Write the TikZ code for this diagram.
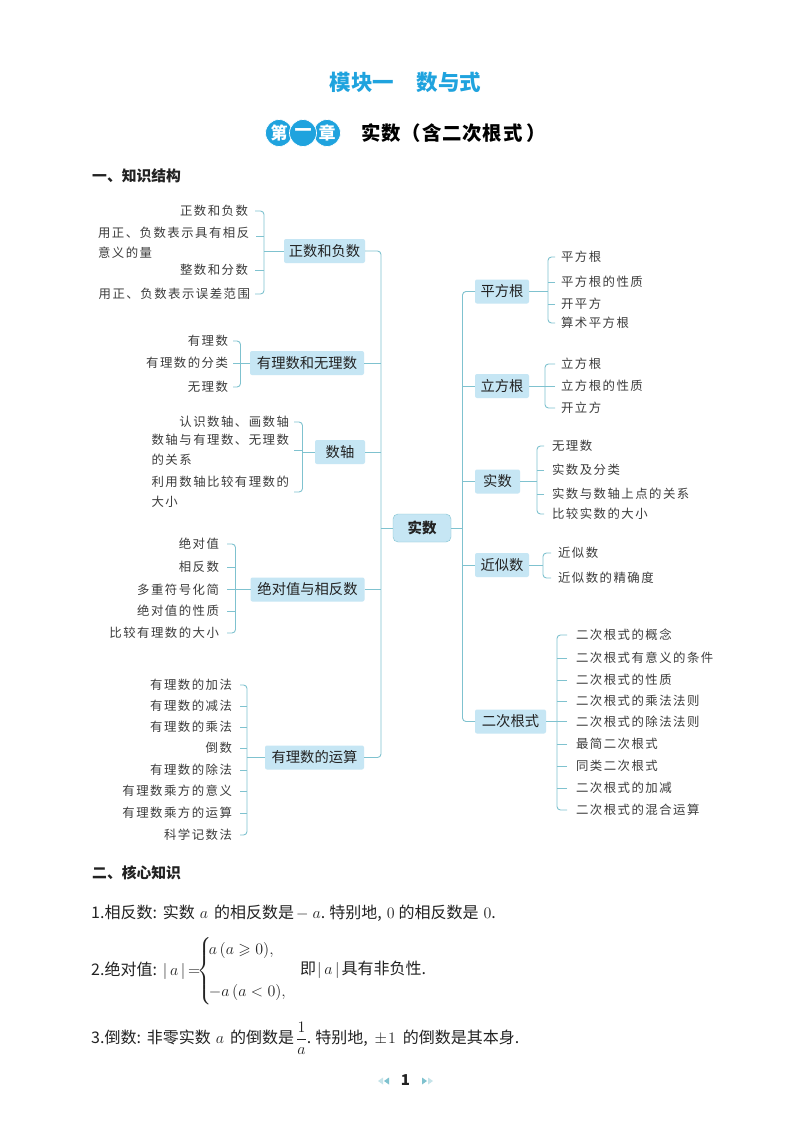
\documentclass[tikz,border=0pt]{standalone}
\usepackage{fix-cm}
\usepackage{amsmath,amssymb}
\usepackage{fontspec}
\setmainfont{Noto Sans CJK SC}
\newfontfamily\leaffont[LetterSpace=12]{Noto Sans CJK SC}
\newfontfamily\chapfont[LetterSpace=4.5]{Noto Sans CJK SC}
\definecolor{linec}{HTML}{7FC2CF}
\definecolor{boxc}{HTML}{C6E6F4}
\definecolor{titlec}{HTML}{1FA3DE}
\definecolor{inkc}{HTML}{222222}
\definecolor{leafc}{HTML}{3C3C3C}
\tikzset{
  conn/.style={draw=linec,line width=0.9pt},
  barconn/.style={conn,rounded corners=3.5pt},
  leaf/.style={font=\leaffont\fontsize{12.4}{20}\selectfont,text=leafc,inner ysep=1pt,outer sep=0pt,align=left},
  hub/.style={fill=boxc,rounded corners=2pt,minimum height=24pt,inner sep=0pt,outer sep=0pt,text=inkc,font=\fontsize{14.3}{17}\selectfont},
  core/.style={hub,draw=linec,rounded corners=5pt,minimum width=58pt,minimum height=28pt,font=\bfseries\fontsize{14.5}{17}\selectfont},
  heading/.style={anchor=west,inner sep=0pt,text=inkc,font=\bfseries\fontsize{14.8}{17}\selectfont},
  body/.style={anchor=west,inner sep=0pt,text=inkc,font=\fontsize{16}{19}\selectfont},
  badge/.style={circle,fill=titlec,draw=white,line width=0.7pt,minimum size=27pt,inner sep=0pt,text=white,font=\bfseries\fontsize{17}{20}\selectfont},
}
% #1 hub name, #2 leaf anchor, #3 bar x, #4 stub end x, #5 gap to text, #6 count, #7 list y/text
\newcommand\leaves[7]{%
  \coordinate (#1b) at (#3,0);
  \foreach \yy/\lbl [count=\ii] in {#7} {
    \node[leaf,anchor=#2,inner xsep=#5] (#1\ii) at (#4,\yy) {\lbl};
    \ifnum\ii>1 \ifnum\ii<#6
      \draw[conn] (#1\ii.#2) -- (#1b|-#1\ii.#2);
    \fi\fi
  }
  \draw[conn] (#1) -- (#1b|-#1);
  \draw[barconn] (#11.#2) -| (#1b|-#1) |- (#1#6.#2);
}
\begin{document}
\begin{tikzpicture}[x=1pt,y=-1pt]
\useasboundingbox (0,0) rectangle (791,1146);
\fill[white] (0,0) rectangle (791,1146);

% titles
\node[inner sep=0pt,text=titlec,font=\bfseries\fontsize{21.5}{24}\selectfont] (modtitle) at (405.5,82) {模块一\hspace{1.05em}数与式};
\node[badge] (bd1) at (279,133) {第};
\node[badge] (bd3) at (327,133) {章};
\node[badge] (bd2) at (303,133) {一};
\node[anchor=west,inner sep=0pt,text=black,font=\chapfont\bfseries\fontsize{19.4}{22}\selectfont] (chtitle) at (361,133) {实数（含二次根式\hspace{4pt}）};
\node[heading] (sec1) at (92,176) {一、知识结构};
\node[heading] (sec2) at (92,873) {二、核心知识};

% centre and hubs
\node[core] (core) at (422,528) {实数};
\coordinate (spL) at (381,528);
\coordinate (spR) at (462.5,528);

\node[hub,minimum width=81pt] (zf) at (324.5,251) {正数和负数};
\node[hub,minimum width=114pt] (yl) at (307,363) {有理数和无理数};
\node[hub,minimum width=50pt] (zz) at (340,452) {数轴};
\node[hub,minimum width=114pt] (jd) at (307.5,589.5) {绝对值与相反数};
\node[hub,minimum width=99pt] (ys) at (314.5,757.5) {有理数的运算};
\node[hub,minimum width=54pt] (pf) at (502,291.5) {平方根};
\node[hub,minimum width=54pt] (lf) at (502,386) {立方根};
\node[hub,minimum width=45pt] (ss) at (497.5,481.5) {实数};
\node[hub,minimum width=54pt] (js) at (502,565) {近似数};
\node[hub,minimum width=71pt] (ec) at (510.5,721.5) {二次根式};

% trunk
\draw[conn] (core) -- (spL);
\draw[conn] (core) -- (spR);
\draw[barconn] (zf) -| (spL) |- (ys);
\draw[conn] (yl) -- (spL|-yl);
\draw[conn] (zz) -- (spL|-zz);
\draw[conn] (jd) -- (spL|-jd);
\draw[barconn] (pf) -| (spR) |- (ec);
\draw[conn] (lf) -- (spR|-lf);
\draw[conn] (ss) -- (spR|-ss);
\draw[conn] (js) -- (spR|-js);

% left group 1 (two-line leaf)
\coordinate (zfb) at (264,0);
\coordinate (zf2c) at (256,236);
\node[leaf,anchor=east,inner xsep=7pt] (zf1) at (255,211) {正数和负数};
\node[leaf,anchor=west,inner xsep=0pt] (zf2) at (98,243) {用正、负数表示具有相反\\意义的量};
\node[leaf,anchor=east,inner xsep=7pt] (zf3) at (255,270) {整数和分数};
\node[leaf,anchor=east,inner xsep=5pt] (zf4) at (255,294) {用正、负数表示误差范围};
\draw[conn] (zf) -- (zfb|-zf);
\draw[conn] (zf2c) -- (zfb|-zf2c);
\draw[conn] (zf3.east) -- (zfb|-zf3.east);
\draw[barconn] (zf1.east) -| (zfb|-zf) |- (zf4.east);

% left group 2
\leaves{yl}{east}{240.5}{233}{5pt}{3}{341/有理数,363/有理数的分类,387/无理数}

% left group 3 (two-line leaves)
\coordinate (zzb) at (302.5,0);
\node[leaf,anchor=east,inner xsep=5pt] (zz1) at (294,422) {认识数轴、画数轴};
\node[leaf,anchor=east,inner xsep=5pt] (zz2) at (294,450) {数轴与有理数、无理数\\的关系};
\node[leaf,anchor=east,inner xsep=5pt] (zz3) at (294,492) {利用数轴比较有理数的\\大小};
\draw[conn] (zz) -- (zzb|-zz);
\draw[conn] (zz2.east) -- (zzb|-zz2.east);
\draw[barconn] (zz1.east) -| (zzb|-zz) |- (zz3.east);

% left groups 4, 5
\leaves{jd}{east}{235.5}{227}{8pt}{5}{544/绝对值,567/相反数,589.5/多重符号化简,611/绝对值的性质,633/比较有理数的大小}
\leaves{ys}{east}{247}{240}{8pt}{8}{685/有理数的加法,706/有理数的减法,727/有理数的乘法,748/倒数,770/有理数的除法,791/有理数乘方的意义,813/有理数乘方的运算,835/科学记数法}

% right groups
\leaves{pf}{west}{548}{555}{6pt}{4}{257/平方根,282/平方根的性质,304/开平方,323/算术平方根}
\leaves{lf}{west}{545}{555}{6pt}{3}{364/立方根,386/立方根的性质,408/开立方}
\leaves{ss}{west}{537}{544}{8pt}{4}{446/无理数,470/实数及分类,494/实数与数轴上点的关系,514/比较实数的大小}
\leaves{js}{west}{543}{551}{7pt}{2}{553/近似数,578/近似数的精确度}
\leaves{ec}{west}{557}{567}{9pt}{9}{635/二次根式的概念,658/二次根式有意义的条件,680/二次根式的性质,701/二次根式的乘法法则,721.5/二次根式的除法法则,744/最简二次根式,766/同类二次根式,788/二次根式的加减,810/二次根式的混合运算}

% core knowledge
\node[body] (k1) at (91,913) {1.相反数:\hspace{6pt}实数\hspace{5pt}$a$\hspace{6pt}的相反数是\hspace{2pt}$-\hspace{4pt}a$.\hspace{4pt}特别地,\hspace{5pt}$0$\hspace{4pt}的相反数是\hspace{5pt}$0$.};
\node[body] (k2) at (91,971) {2.绝对值:\hspace{6pt}$|\,a\,|\,{=}\!\!\begin{cases}\hspace{-3pt}a\,(a\geqslant 0),\\[19pt]\hspace{-3pt}-a\,(a<0),\end{cases}$};
\node[body] (k2b) at (300,970) {即\hspace{1pt}$|\,a\,|$\hspace{2pt}具有非负性.};
\node[body] (k3) at (91,1038) {3.倒数:\hspace{6pt}非零实数\hspace{5pt}$a$\hspace{6pt}的倒数是\hspace{2pt}$\dfrac{1}{a}$.\hspace{4pt}特别地,\hspace{7pt}$\pm\hspace{1pt}1$\hspace{7pt}的倒数是其本身.};

% page number
\node[inner sep=0pt,text=inkc,font=\bfseries\fontsize{15}{17}\selectfont] (pg) at (405.5,1080.5) {1};
\fill[linec!45] (378,1081) -- (383,1077.5) -- (383,1084.5) -- cycle;
\fill[linec] (384,1081) -- (389,1077.5) -- (389,1084.5) -- cycle;
\fill[linec] (427,1081) -- (422,1077.5) -- (422,1084.5) -- cycle;
\fill[linec!45] (433,1081) -- (428,1077.5) -- (428,1084.5) -- cycle;
\end{tikzpicture}
\end{document}
